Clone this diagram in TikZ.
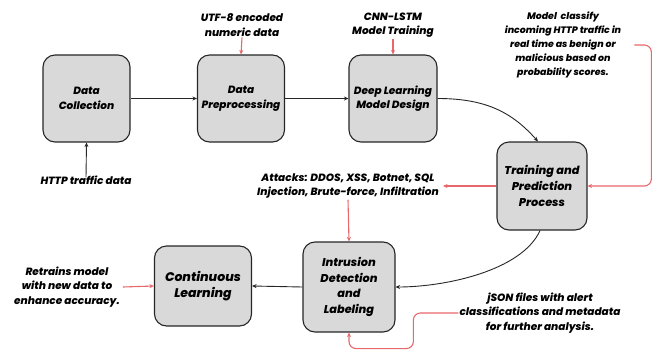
\documentclass[tikz,border=0pt]{standalone}
\usepackage{fontspec}
\setmainfont{Poppins}[BoldItalicFont={Poppins ExtraBold Italic}]
\usetikzlibrary{arrows.meta,calc}
\definecolor{boxgray}{HTML}{D9D9D9}
\definecolor{lred}{HTML}{E8676B}
\begin{document}
\begin{tikzpicture}[x=1pt,y=-1pt,
  every node/.style={font=\fontsize{10.5}{14.5}\selectfont\bfseries\itshape, align=center, inner sep=1pt},
  procbox/.style={draw=black!85, line width=1.1pt, fill=boxgray, rounded corners=12pt, minimum width=87pt, minimum height=87pt},
  bigtext/.style={font=\fontsize{11.3}{15.8}\selectfont\bfseries\itshape},
  blackarrow/.style={draw=black!85, line width=0.9pt, -{Stealth[length=4.5pt,width=4pt]}},
  redarrow/.style={draw=lred, line width=1.1pt, -{Stealth[length=4.5pt,width=4pt]}}]
\useasboundingbox (0,0) rectangle (666,356);
% process boxes
\node[procbox] (dc) at (86.5,98.5) {Data\\Collection};
\node[procbox] (dp) at (241,98.5) {Data\\Preprocessing};
\node[procbox, minimum width=88pt] (dl) at (393,98.5) {Deep Learning\\Model Design};
\node[procbox, bigtext, minimum width=90pt, minimum height=88pt] (tp) at (542,186) {Training and\\Prediction\\Process};
\node[procbox, bigtext, minimum width=92pt, minimum height=90pt] (id) at (349,287) {Intrusion\\Detection\\and\\Labeling};
\node[procbox, minimum width=97pt, minimum height=80pt, font=\fontsize{12.5}{16}\selectfont\bfseries\itshape] (cl) at (203,286) {Continuous\\Learning};
% labels
\node (utf) at (242,25) {UTF-8 encoded\\numeric data};
\node (cnn) at (393,25) {CNN-LSTM\\Model Training};
\node[font=\fontsize{9.4}{14}\selectfont\bfseries\itshape] (model) at (563,45) {Model\ \ classify\\incoming HTTP traffic in\\real time as benign or\\malicious based on\\probability scores.};
\node (http) at (86,180) {HTTP traffic data};
\node (attacks) at (348,186) {Attacks: DDOS, XSS, Botnet, SQL\\Injection, Brute-force, Infiltration};
\node (retrains) at (67,287) {Retrains model\\with new data to\\enhance accuracy.};
\node (json) at (540,313) {jSON files with alert\\classifications and metadata\\for further analysis.};
% black flow
\draw[blackarrow] ([yshift=-3pt]http.north) -- (dc.south);
\draw[blackarrow] (dc.east) -- (dp.west);
\draw[blackarrow] (dp.east) -- (dl.west);
\draw[blackarrow] (dl.east) .. controls +(50,0) and +(-25,-28) .. ([xshift=-4pt]tp.north);
\draw[blackarrow] ([xshift=-2pt]tp.south) .. controls +(-18,40) and +(50,0) .. (id.east);
\draw[blackarrow] (id.west) -- (cl.east);
% red annotations
\draw[redarrow] (utf.south) -- (dp.north);
\draw[redarrow] (cnn.south) -- (dl.north);
\draw[redarrow, rounded corners=7pt] ([xshift=12pt]model.east) -- ++(17,0) |- (tp.east);
\draw[redarrow] (tp.west) -- ([xshift=3pt]attacks.east);
\draw[redarrow] (attacks.south) -- (id.north);
\draw[redarrow] ([xshift=2pt]retrains.east) -- (cl.west);
\draw[redarrow, rounded corners=7pt] (json.west) -- ++(-45,0) |- ($(id.south)+(0,16)$) -- (id.south);
\end{tikzpicture}
\end{document}
